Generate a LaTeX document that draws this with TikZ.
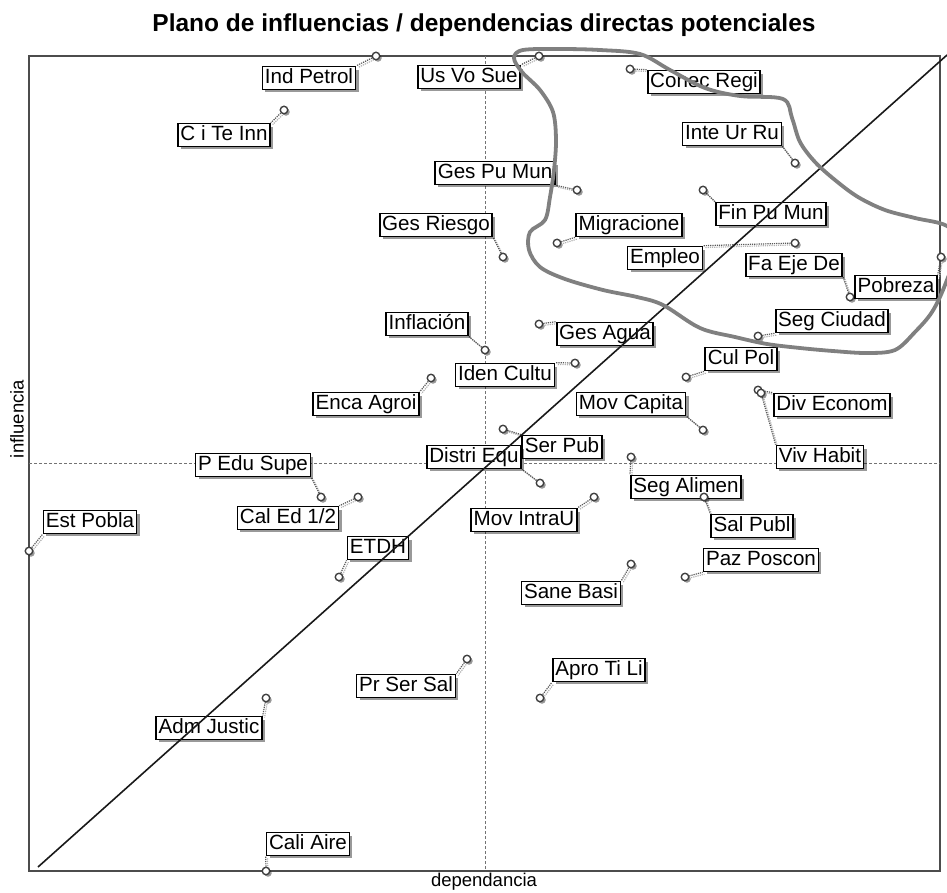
\documentclass[tikz,border=0pt]{standalone}
\usepackage{fontspec}
\setmainfont{Liberation Sans}
\usetikzlibrary{shadows}
\pgfdeclarelayer{back}
\pgfsetlayers{back,main}
\begin{document}
\begin{tikzpicture}[x=1pt,y=-1pt,
  lbl/.style={draw=black, line width=1.7pt, fill=white, inner xsep=2.5pt, inner ysep=1.8pt,
    text height=15pt, text depth=4.3pt, font=\fontsize{20.6}{24}\selectfont,
    drop shadow={shadow xshift=3pt, shadow yshift=-3pt, fill=black, opacity=0.4}},
  pt/.style={circle, draw=black!75, line width=1.4pt, fill=white, inner sep=0pt, minimum size=7.5pt,
    drop shadow={shadow xshift=2pt, shadow yshift=-2pt, fill=black, opacity=0.4}},
  lead/.style={densely dotted, line width=1.2pt, draw=black!65,
    preaction={draw=black!30, densely dotted, line width=1.2pt, transform canvas={xshift=1.8pt, yshift=-1.8pt}}},
  axis/.style={font=\fontsize{18.5}{22}\selectfont},
  quadrant/.style={draw=black!55, line width=0.8pt, dash pattern=on 3pt off 2pt},
  frame/.style={draw=black!70, line width=2.2pt},
  diagonal/.style={draw=black!90, line width=1.6pt},
  cluster/.style={draw=black!50, line width=3.8pt, line join=round}]
\useasboundingbox (0,0) rectangle (947,892);

% title and axis names
\node[font=\fontsize{24.5}{28}\selectfont\bfseries] (title) at (484,25) {Plano de influencias / dependencias directas potenciales};
\node[axis, rotate=90] (yname) at (17,419) {influencia};
\node[axis] (xname) at (484,882) {dependancia};

% frame and quadrant lines
\begin{pgfonlayer}{back}
\draw[frame] (29,56) rectangle (940,871);
\draw[quadrant] (485,56) -- (485,871);
\draw[quadrant] (29,463) -- (940,463);
\end{pgfonlayer}

% variables: point, label and dotted leader
\foreach \n/\px/\py/\lx/\ly/\an/\t in {
  1/376/56/309/78/north east/{Ind Petrol},
  2/539/56/469/77/north east/{Us Vo Sue},
  3/284/110/224/135/north east/{C i Te Inn},
  4/577/190/495/173/south east/{Ges Pu Mun},
  5/503/257/436/225/south east/{Ges Riesgo},
  6/630/69/704/82/north west/{Conec Regi},
  7/795/163/732/134/south east/{Inte Ur Ru},
  8/703/190/771/214/north west/{Fin Pu Mun},
  9/557/243/629/225/south west/{Migracione},
  10/795/243/665/258/north east/{Empleo},
  11/850/297/794/265/south east/{Fa Eje De},
  12/941/257/896/287/north east/{Pobreza},
  13/758/336/832/321/south west/{Seg Ciudad},
  14/539/324/605/334/north west/{Ges Agua},
  15/485/350/427/324/south east/{Inflación},
  16/575/363/505/375/north east/{Iden Cultu},
  17/431/378/366/404/north east/{Enca Agroi},
  18/703/430/631/404/south east/{Mov Capita},
  19/503/429/562/447/north west/{Ser Pub},
  20/540/483/474/457/south east/{Distri Equ},
  21/686/377/741/359/south west/{Cul Pol},
  22/758/390/832/405/north west/{Div Econom},
  23/761/393/820/457/north west/{Viv Habit},
  24/631/457/686/487/north west/{Seg Alimen},
  25/704/497/752/526/north west/{Sal Publ},
  26/594/497/524/520/north east/{Mov IntraU},
  27/685/577/761/560/south west/{Paz Poscon},
  28/631/564/571/593/north east/{Sane Basi},
  29/321/497/253/465/south east/{P Edu Supe},
  30/358/497/288/518/north east/{Cal Ed 1/2},
  31/29/551/90/522/south west/{Est Pobla},
  32/339/577/378/548/south west/{ETDH},
  33/540/698/599/670/south west/{Apro Ti Li},
  34/467/659/406/686/north east/{Pr Ser Sal},
  35/266/698/209/728/north east/{Adm Justic},
  36/266/871/308/844/south west/{Cali Aire}}{
  \node[pt] (p\n) at (\px,\py) {};
  \node[lbl] (l\n) at (\lx,\ly) {\t};
  \begin{pgfonlayer}{back}
    \draw[lead] (p\n) -- (l\n.\an);
  \end{pgfonlayer}
}

% bisector
\draw[diagonal] (38,867) -- (947,55);

% hand-drawn cluster outline
\draw[cluster] plot[smooth cycle, tension=0.55] coordinates {
  (523,50) (560,49) (600,50) (640,54) (670,70) (705,88) (740,96) (783,99)
  (792,118) (800,142) (815,162) (835,180) (858,197) (885,210) (915,218) (947,226)
  (958,245) (945,285) (932,312) (915,332) (895,350) (867,353) (833,351) (800,348)
  (767,344) (735,337) (700,328) (663,305) (637,297) (603,290) (565,279) (540,267)
  (529,250) (530,232) (545,220) (550,197) (554,170) (556,140) (553,112) (540,90)
  (522,72) (514,58)};
\end{tikzpicture}
\end{document}
